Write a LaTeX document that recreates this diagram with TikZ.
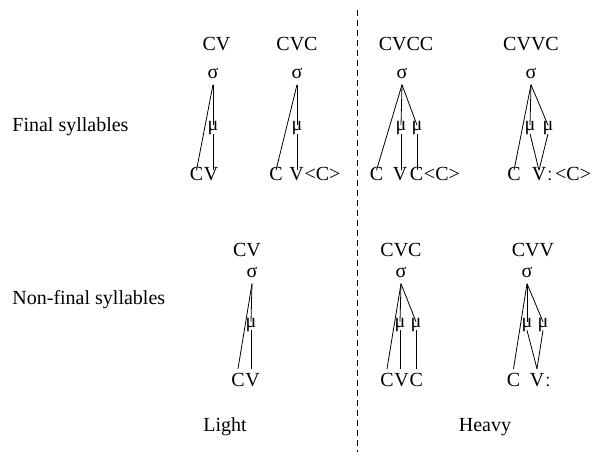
\documentclass[tikz,border=0pt]{standalone}
\usepackage{fontspec}
\setmainfont{Liberation Serif}
\usetikzlibrary{positioning}
\newcommand{\treefont}{\fontsize{20}{24}\selectfont}
\begin{document}
\begin{tikzpicture}[x = 1pt, y = -1pt, line width = 0.8pt,
    txt/.style = {font = \treefont, inner sep = 0pt, text height = 0.66em, text depth = 0pt},
    sig/.style = {font = \treefont, inner xsep = 0pt, inner ysep = 6pt, text height = 0.46em, text depth = 0pt},
    mora/.style = {font = \treefont, inner xsep = 0pt, inner ysep = 0.5pt, text height = 0.46em, text depth = 0.22em},
    seg/.style = {txt, inner ysep = 3pt},
    side/.style = {font = \treefont, inner sep = 0pt},
    divider/.style = {line width = 0.9pt, dash pattern = on 6pt off 4pt}]
    \useasboundingbox (0,0) rectangle (592,457);
    % row labels
    \node[side, anchor = base west] (final) at (12,132) {Final syllables};
    \node[side, anchor = base west] (nonfinal) at (12,305) {Non-final syllables};
    \node[side, anchor = base] (light) at (225,431) {Light};
    \node[side, anchor = base] (heavy) at (485,431) {Heavy};
    \coordinate (dtop) at (357,10);
    \coordinate (dbot) at (357,452);
    \draw[divider] (dtop) -- (dbot);
    % final: CV
    \node[txt] (l1) at (216.5,47.5) {CV};
    \node[sig] (s1) at (213,76) {σ};
    \node[mora] (m1) at (213,129.5) {μ};
    \node[seg] (c1) at (196.5,177) {C};
    \node[seg, right = 0pt of c1] (v1) {V};
    \draw (s1.south) -- (c1.north);
    \draw (s1.south) -- (m1.north);
    \draw (m1.south) -- (m1.south |- v1.north);
    % final: CVC
    \node[txt] (l2) at (297,47.5) {CVC};
    \node[sig] (s2) at (297,76) {σ};
    \node[mora] (m2) at (297,129.5) {μ};
    \node[seg] (c2) at (276,177) {C};
    \node[seg] (v2) at (296.5,177) {V};
    \node[seg, right = 0pt of v2] (x2) {<C>};
    \draw (s2.south) -- (c2.north);
    \draw (s2.south) -- (m2.north);
    \draw (m2.south) -- (m2.south |- v2.north);
    % final: CVCC
    \node[txt] (l3) at (406,47.5) {CVCC};
    \node[sig] (s3) at (402,76) {σ};
    \node[mora] (m3a) at (401,129.5) {μ};
    \node[mora] (m3b) at (417,129.5) {μ};
    \node[seg] (c3) at (376.5,177) {C};
    \node[seg] (v3) at (400,177) {V};
    \node[seg] (c3b) at (416.5,177) {C};
    \node[seg, right = 0pt of c3b] (x3) {<C>};
    \draw (s3.south) -- (c3.north);
    \draw (s3.south) -- (m3a.north);
    \draw (s3.south) -- (m3b.north);
    \draw (m3a.south) -- (m3a.south |- v3.north);
    \draw (m3b.south) -- (m3b.south |- c3b.north);
    % final: CVVC
    \node[txt] (l4) at (531,47.5) {CVVC};
    \node[sig] (s4) at (531,76) {σ};
    \node[mora] (m4a) at (530,129.5) {μ};
    \node[mora] (m4b) at (548,129.5) {μ};
    \node[seg] (c4) at (514,177) {C};
    \node[seg] (v4) at (539,177) {V};
    \node[seg, right = 0pt of v4] (len4) {ː};
    \node[seg, anchor = east] (x4) at (591.5,177) {<C>};
    \draw (s4.south) -- (c4.north);
    \draw (s4.south) -- (m4a.north);
    \draw (s4.south) -- (m4b.north);
    \draw (m4a.south) -- (v4.north);
    \draw (m4b.south) -- (v4.north);
    % non-final: CV
    \node[txt] (l5) at (247,253) {CV};
    \node[sig] (s5) at (252,275) {σ};
    \node[mora] (m5) at (251,326) {μ};
    \node[seg, inner ysep = 11pt] (c5) at (238,383.5) {C};
    \node[seg, inner ysep = 11pt, right = 0pt of c5] (v5) {V};
    \draw (s5.south) -- (c5.north);
    \draw (s5.south) -- (m5.north);
    \draw (m5.south) -- (m5.south |- v5.north);
    % non-final: CVC
    \node[txt] (l6) at (401,253) {CVC};
    \node[sig] (s6) at (401,275) {σ};
    \node[mora] (m6a) at (400,326) {μ};
    \node[mora] (m6b) at (416,326) {μ};
    \node[seg, inner ysep = 11pt] (c6) at (387,383.5) {C};
    \node[seg, inner ysep = 11pt, right = 0pt of c6] (v6) {V};
    \node[seg, inner ysep = 11pt, right = 0pt of v6] (c6b) {C};
    \draw (s6.south) -- (c6.north);
    \draw (s6.south) -- (m6a.north);
    \draw (s6.south) -- (m6b.north);
    \draw (m6a.south) -- (m6a.south |- v6.north);
    \draw (m6b.south) -- (m6b.south |- c6b.north);
    % non-final: CVV
    \node[txt] (l7) at (533,253) {CVV};
    \node[sig] (s7) at (527,275) {σ};
    \node[mora] (m7a) at (527,326) {μ};
    \node[mora] (m7b) at (543,326) {μ};
    \node[seg, inner ysep = 11pt] (c7) at (513.5,383.5) {C};
    \node[seg, inner ysep = 11pt] (v7) at (537,383.5) {V};
    \node[seg, inner ysep = 11pt, right = 0pt of v7] (len7) {ː};
    \draw (s7.south) -- (c7.north);
    \draw (s7.south) -- (m7a.north);
    \draw (s7.south) -- (m7b.north);
    \draw (m7a.south) -- (v7.north);
    \draw (m7b.south) -- (v7.north);
\end{tikzpicture}
\end{document}
